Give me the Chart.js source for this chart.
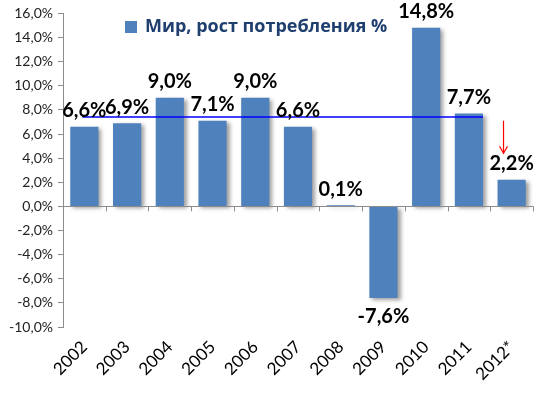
<!DOCTYPE html>
<html lang="ru">
<head>
  <meta charset="UTF-8">
  <title>Мир, рост потребления %</title>
  <script src="https://cdn.jsdelivr.net/npm/chart.js"></script>
  <style>
    html, body { margin: 0; padding: 0; background: #fff; }
    #wrap { width: 548px; height: 393px; }
  </style>
</head>
<body>
  <div id="wrap"><canvas id="growthChart" width="548" height="393"></canvas></div>

  <script>
    const years = ['2002', '2003', '2004', '2005', '2006', '2007', '2008', '2009', '2010', '2011', '2012*'];
    const growth = [6.6, 6.9, 9.0, 7.1, 9.0, 6.6, 0.1, -7.6, 14.8, 7.7, 2.2];
    const seriesName = 'Мир, рост потребления %';
    const avgLevel = 7.4;          // синяя горизонтальная линия
    const arrowFrom = 7.1, arrowTo = 4.4;

    const fmt = v => v.toFixed(1).replace('.', ',') + '%';

    // тень у столбиков
    const barShadow = {
      id: 'barShadow',
      beforeDatasetDraw(chart) {
        const ctx = chart.ctx;
        ctx.save();
        ctx.shadowColor = 'rgba(0,0,0,0.38)';
        ctx.shadowBlur = 4;
        ctx.shadowOffsetX = 3;
        ctx.shadowOffsetY = 2;
      },
      afterDatasetDraw(chart) {
        chart.ctx.restore();
      }
    };

    // ось X на нуле, подписи, линия, стрелка, легенда
    const extras = {
      id: 'extras',
      afterDatasetsDraw(chart) {
        const ctx = chart.ctx;
        const x = chart.scales.x, y = chart.scales.y;
        const area = chart.chartArea;
        const y0 = y.getPixelForValue(0);
        const step = x.getPixelForValue(1) - x.getPixelForValue(0);

        ctx.save();
        ctx.strokeStyle = '#8c8c8c';
        ctx.lineWidth = 1;
        ctx.beginPath();
        ctx.moveTo(area.left, Math.round(y0) + 0.5);
        ctx.lineTo(area.right, Math.round(y0) + 0.5);
        for (let i = 0; i <= years.length; i++) {
          const px = Math.round(x.getPixelForValue(i) - step / 2) + 0.5;
          ctx.moveTo(px, y0);
          ctx.lineTo(px, y0 + 5);
        }
        ctx.stroke();

        // синяя линия
        const ly = Math.round(y.getPixelForValue(avgLevel));
        ctx.strokeStyle = '#0000ff';
        ctx.lineWidth = 1.5;
        ctx.beginPath();
        ctx.moveTo(x.getPixelForValue(0) - 2, ly);
        ctx.lineTo(x.getPixelForValue(9) + step * 0.33, ly);
        ctx.stroke();

        // подписи значений
        const meta = chart.getDatasetMeta(0);
        ctx.fillStyle = '#000';
        ctx.font = 'bold 20px Lato, "Open Sans", sans-serif';
        ctx.textAlign = 'center';
        meta.data.forEach((bar, i) => {
          const v = growth[i];
          if (v >= 0) {
            ctx.textBaseline = 'bottom';
            ctx.fillText(fmt(v), bar.x, bar.y - 6);
          } else {
            ctx.textBaseline = 'top';
            ctx.fillText(fmt(v), bar.x, bar.y + 8);
          }
        });

        // красная стрелка
        const ax = x.getPixelForValue(10) - step * 0.19;
        const a1 = y.getPixelForValue(arrowFrom), a2 = y.getPixelForValue(arrowTo);
        ctx.strokeStyle = '#ff0000';
        ctx.lineWidth = 1.2;
        ctx.beginPath();
        ctx.moveTo(ax, a1);
        ctx.lineTo(ax, a2);
        ctx.moveTo(ax - 4, a2 - 7);
        ctx.lineTo(ax, a2);
        ctx.lineTo(ax + 4, a2 - 7);
        ctx.stroke();

        // легенда
        ctx.fillStyle = '#4f81bd';
        ctx.fillRect(125, 21, 12, 12);
        ctx.fillStyle = '#1f3f6e';
        ctx.font = 'bold 18px "Open Sans", sans-serif';
        ctx.textAlign = 'left';
        ctx.textBaseline = 'middle';
        ctx.fillText(seriesName, 145, 27);
        ctx.restore();
      }
    };

    new Chart(document.getElementById('growthChart'), {
      type: 'bar',
      data: {
        labels: years,
        datasets: [{
          label: seriesName,
          data: growth,
          backgroundColor: '#4f81bd',
          categoryPercentage: 1,
          barPercentage: 0.66
        }]
      },
      options: {
        responsive: false,
        animation: false,
        layout: { padding: { top: 8, right: 15, left: 0, bottom: 0 } },
        plugins: {
          legend: { display: false },
          tooltip: { enabled: false }
        },
        scales: {
          x: {
            grid: { display: false },
            border: { display: false },
            ticks: {
              minRotation: 45,
              maxRotation: 45,
              color: '#000',
              font: { family: 'Lato, sans-serif', size: 17 },
              padding: 2
            },
            afterFit(scale) { scale.height = 66; }
          },
          y: {
            min: -10,
            max: 16,
            ticks: {
              stepSize: 2,
              color: '#222',
              font: { family: 'Lato, sans-serif', size: 14 },
              padding: 5,
              callback: v => fmt(v)
            },
            grid: { drawOnChartArea: false, drawTicks: true, tickLength: 5, color: '#8c8c8c' },
            border: { display: true, color: '#8c8c8c' },
            afterFit(scale) { scale.width = 63; }
          }
        }
      },
      plugins: [barShadow, extras]
    });
  </script>
</body>
</html>
